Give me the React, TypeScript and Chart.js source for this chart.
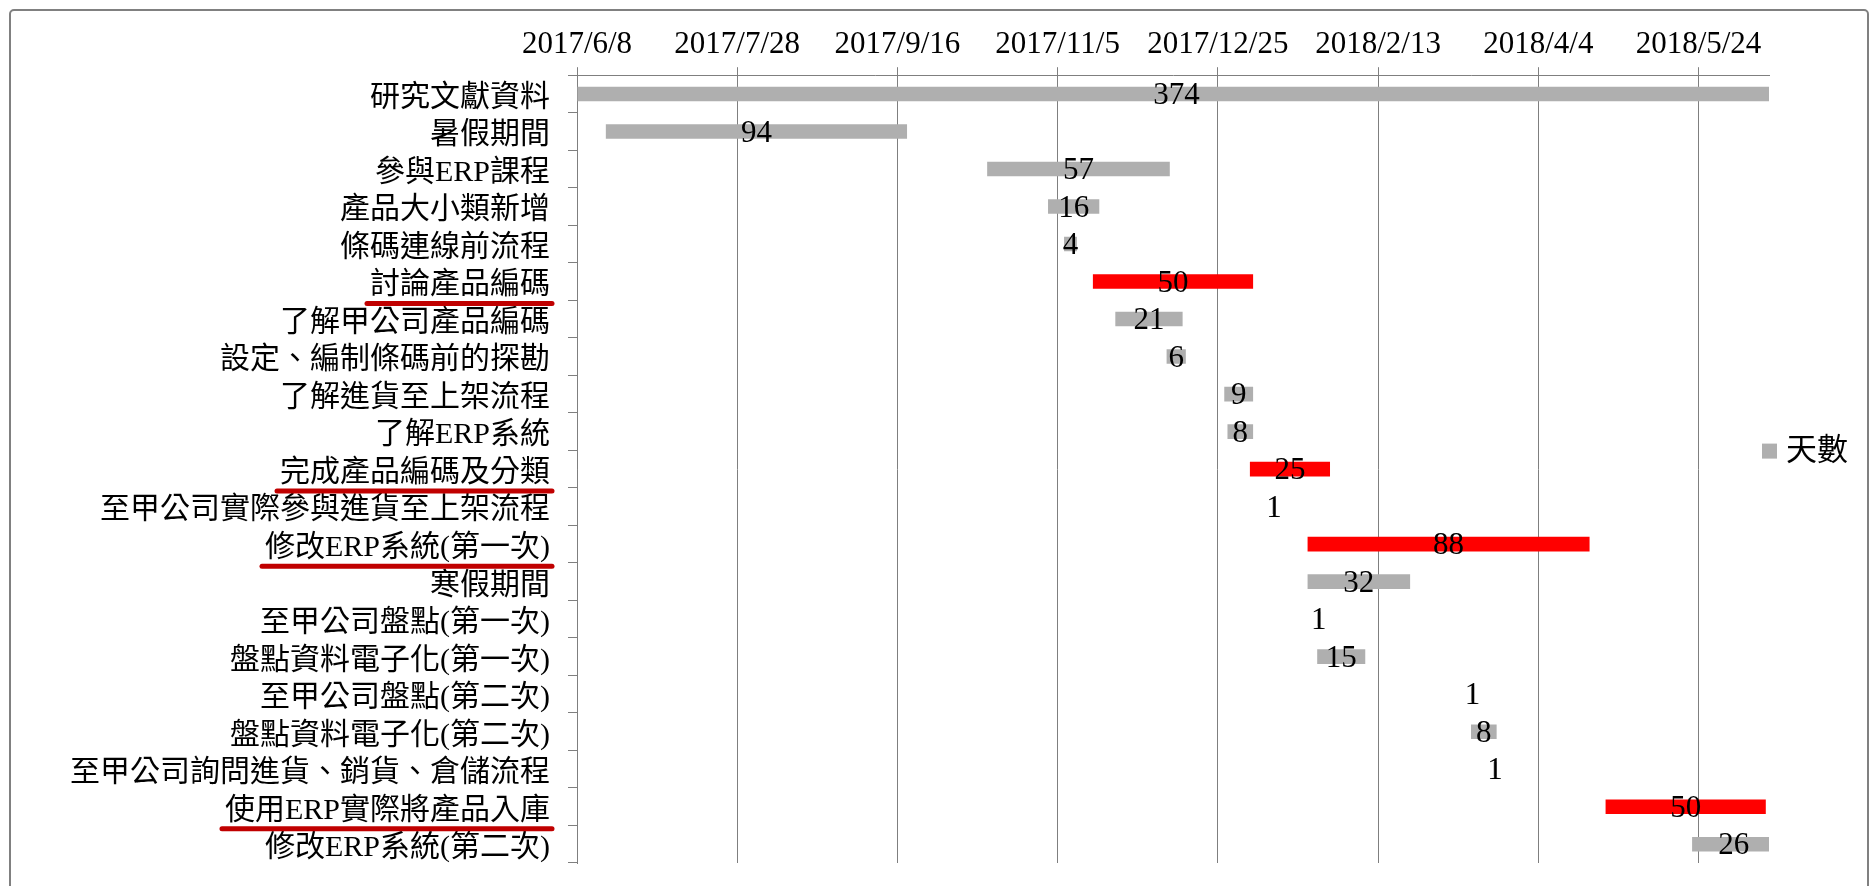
import React, { useEffect, useRef } from 'react';
import { Chart, registerables } from 'chart.js';

Chart.register(...registerables);

// ---- data ----
const tasks = [
  '研究文獻資料',
  '暑假期間',
  '參與ERP課程',
  '產品大小類新增',
  '條碼連線前流程',
  '討論產品編碼',
  '了解甲公司產品編碼',
  '設定、編制條碼前的探勘',
  '了解進貨至上架流程',
  '了解ERP系統',
  '完成產品編碼及分類',
  '至甲公司實際參與進貨至上架流程',
  '修改ERP系統(第一次)',
  '寒假期間',
  '至甲公司盤點(第一次)',
  '盤點資料電子化(第一次)',
  '至甲公司盤點(第二次)',
  '盤點資料電子化(第二次)',
  '至甲公司詢問進貨、銷貨、倉儲流程',
  '使用ERP實際將產品入庫',
  '修改ERP系統(第二次)',
];
const startDates = [
  '2017/6/8', '2017/6/17', '2017/10/14', '2017/11/2', '2017/11/7', '2017/11/16', '2017/11/23',
  '2017/12/9', '2017/12/27', '2017/12/28', '2018/1/4', '2018/1/11', '2018/1/22', '2018/1/22',
  '2018/1/25', '2018/1/25', '2018/3/14', '2018/3/14', '2018/3/21', '2018/4/25', '2018/5/22',
];
const durations = [374, 94, 57, 16, 4, 50, 21, 6, 9, 8, 25, 1, 88, 32, 1, 15, 1, 8, 1, 50, 26];
const highlightedTasks = ['討論產品編碼', '完成產品編碼及分類', '修改ERP系統(第一次)', '使用ERP實際將產品入庫'];
const tickDates = ['2017/6/8', '2017/7/28', '2017/9/16', '2017/11/5', '2017/12/25', '2018/2/13', '2018/4/4', '2018/5/24'];
const axisStart = '2017/6/8';
const axisEnd = '2018/6/15';
const seriesName = '天數';

// ---- helpers ----
const toDay = (s: string) => {
  const [y, m, d] = s.split('/').map(Number);
  return Math.round(Date.UTC(y, m - 1, d) / 86400000);
};

const FAMILY = '"Liberation Serif", "Noto Sans CJK TC", serif';
const FONT_SIZE = 31;
const LABEL_SIZE = 30;
const GREY = '#AFAFAF';
const RED = '#FF0000';
const GRID = '#7F7F7F';
const Y_TICK_LEN = 9;
const Y_TICK_PAD = 18;

const valueLabelPlugin = {
  id: 'valueLabels',
  afterDatasetsDraw(chart: any) {
    const ctx = chart.ctx;
    const meta = chart.getDatasetMeta(0);
    ctx.save();
    ctx.font = `${FONT_SIZE}px ${FAMILY}`;
    ctx.fillStyle = '#000';
    ctx.textAlign = 'center';
    ctx.textBaseline = 'middle';
    meta.data.forEach((bar: any, i: number) => {
      const cx = (bar.x + bar.base) / 2;
      ctx.fillText(String(durations[i]), cx, bar.y + 2);
    });
    ctx.restore();
  },
};

const underlinePlugin = {
  id: 'underlines',
  afterDraw(chart: any) {
    const ctx = chart.ctx;
    const y = chart.scales.y;
    ctx.save();
    ctx.font = `${LABEL_SIZE}px ${FAMILY}`;
    ctx.strokeStyle = '#C00000';
    ctx.lineWidth = 5;
    ctx.lineCap = 'round';
    tasks.forEach((t, i) => {
      if (!highlightedTasks.includes(t)) return;
      const w = ctx.measureText(t).width;
      const right = y.right - Y_TICK_LEN - Y_TICK_PAD;
      const py = y.getPixelForValue(i) + 22;
      ctx.beginPath();
      ctx.moveTo(right - w - 3, py);
      ctx.lineTo(right + 2, py);
      ctx.stroke();
    });
    ctx.restore();
  },
};

// legend drawn beside the plot, as in the Excel original
const sideLegendPlugin = {
  id: 'sideLegend',
  afterDraw(chart: any) {
    const ctx = chart.ctx;
    const area = chart.chartArea;
    const label = chart.data.datasets[0].label;
    const boxX = area.right - 7;
    const cy = (area.top + area.bottom) / 2 - 18;
    ctx.save();
    ctx.fillStyle = GREY;
    ctx.fillRect(boxX, cy - 7.5, 15, 15);
    ctx.font = `${FONT_SIZE}px ${FAMILY}`;
    ctx.fillStyle = '#000';
    ctx.textAlign = 'left';
    ctx.textBaseline = 'middle';
    ctx.fillText(label, boxX + 24, cy + 1);
    ctx.restore();
  },
};

export default function App() {
  const canvasRef = useRef<HTMLCanvasElement | null>(null);

  useEffect(() => {
    const canvas = canvasRef.current;
    if (!canvas) return;
    const base = toDay(axisStart);
    const tickVals = tickDates.map((d) => toDay(d) - base);
    const data = startDates.map((s, i) => {
      const st = toDay(s) - base;
      return [st, st + durations[i]];
    });

    const chart = new Chart(canvas, {
      type: 'bar',
      data: {
        labels: tasks,
        datasets: [
          {
            label: seriesName,
            data: data as any,
            backgroundColor: (c: any) =>
              c.dataIndex !== undefined && highlightedTasks.includes(tasks[c.dataIndex]) ? RED : GREY,
            borderWidth: 0,
            barPercentage: 0.39,
            categoryPercentage: 1,
          },
        ],
      },
      options: {
        indexAxis: 'y',
        animation: false,
        responsive: false,
        devicePixelRatio: 1,
        layout: { padding: { left: 10, top: 22, bottom: 23, right: 105 } },
        scales: {
          x: {
            type: 'linear',
            position: 'top',
            min: 0,
            max: toDay(axisEnd) - base,
            afterBuildTicks: (s: any) => {
              s.ticks = tickVals.map((v) => ({ value: v }));
            },
            ticks: {
              autoSkip: false,
              maxRotation: 0,
              padding: 4,
              color: '#000',
              font: { family: FAMILY, size: FONT_SIZE },
              callback: (v: any) => {
                const idx = tickVals.indexOf(Number(v));
                return idx >= 0 ? tickDates[idx] : '';
              },
            },
            grid: { color: GRID, lineWidth: 1, tickLength: 8, drawTicks: true },
            border: { display: true, color: GRID, width: 1 },
          },
          y: {
            type: 'category',
            afterFit: (s: any) => {
              s.width = 567;
              s.paddingTop = 0;
              s.paddingBottom = 0;
            },
            ticks: {
              autoSkip: false,
              padding: Y_TICK_PAD,
              labelOffset: 4,
              color: '#000',
              font: { family: FAMILY, size: LABEL_SIZE },
            },
            grid: {
              display: true,
              drawOnChartArea: false,
              offset: true,
              tickLength: Y_TICK_LEN,
              color: GRID,
            },
            border: { display: true, color: GRID, width: 1 },
          },
        },
        plugins: {
          legend: { display: false },
          tooltip: { enabled: false },
        },
      } as any,
      plugins: [valueLabelPlugin, underlinePlugin, sideLegendPlugin],
    });
    return () => chart.destroy();
  }, []);

  return (
    <div style={{ position: 'fixed', left: 0, top: 0, width: 1874, height: 886, background: '#fff', overflow: 'hidden' }}>
      <div
        style={{
          position: 'absolute',
          left: 9,
          top: 9,
          width: 1860,
          height: 890,
          border: '2px solid #808080',
          borderRadius: 5,
          boxSizing: 'border-box',
        }}
      />
      <canvas ref={canvasRef} width={1874} height={886} style={{ position: 'absolute', left: 0, top: 0, display: 'block' }} />
    </div>
  );
}
